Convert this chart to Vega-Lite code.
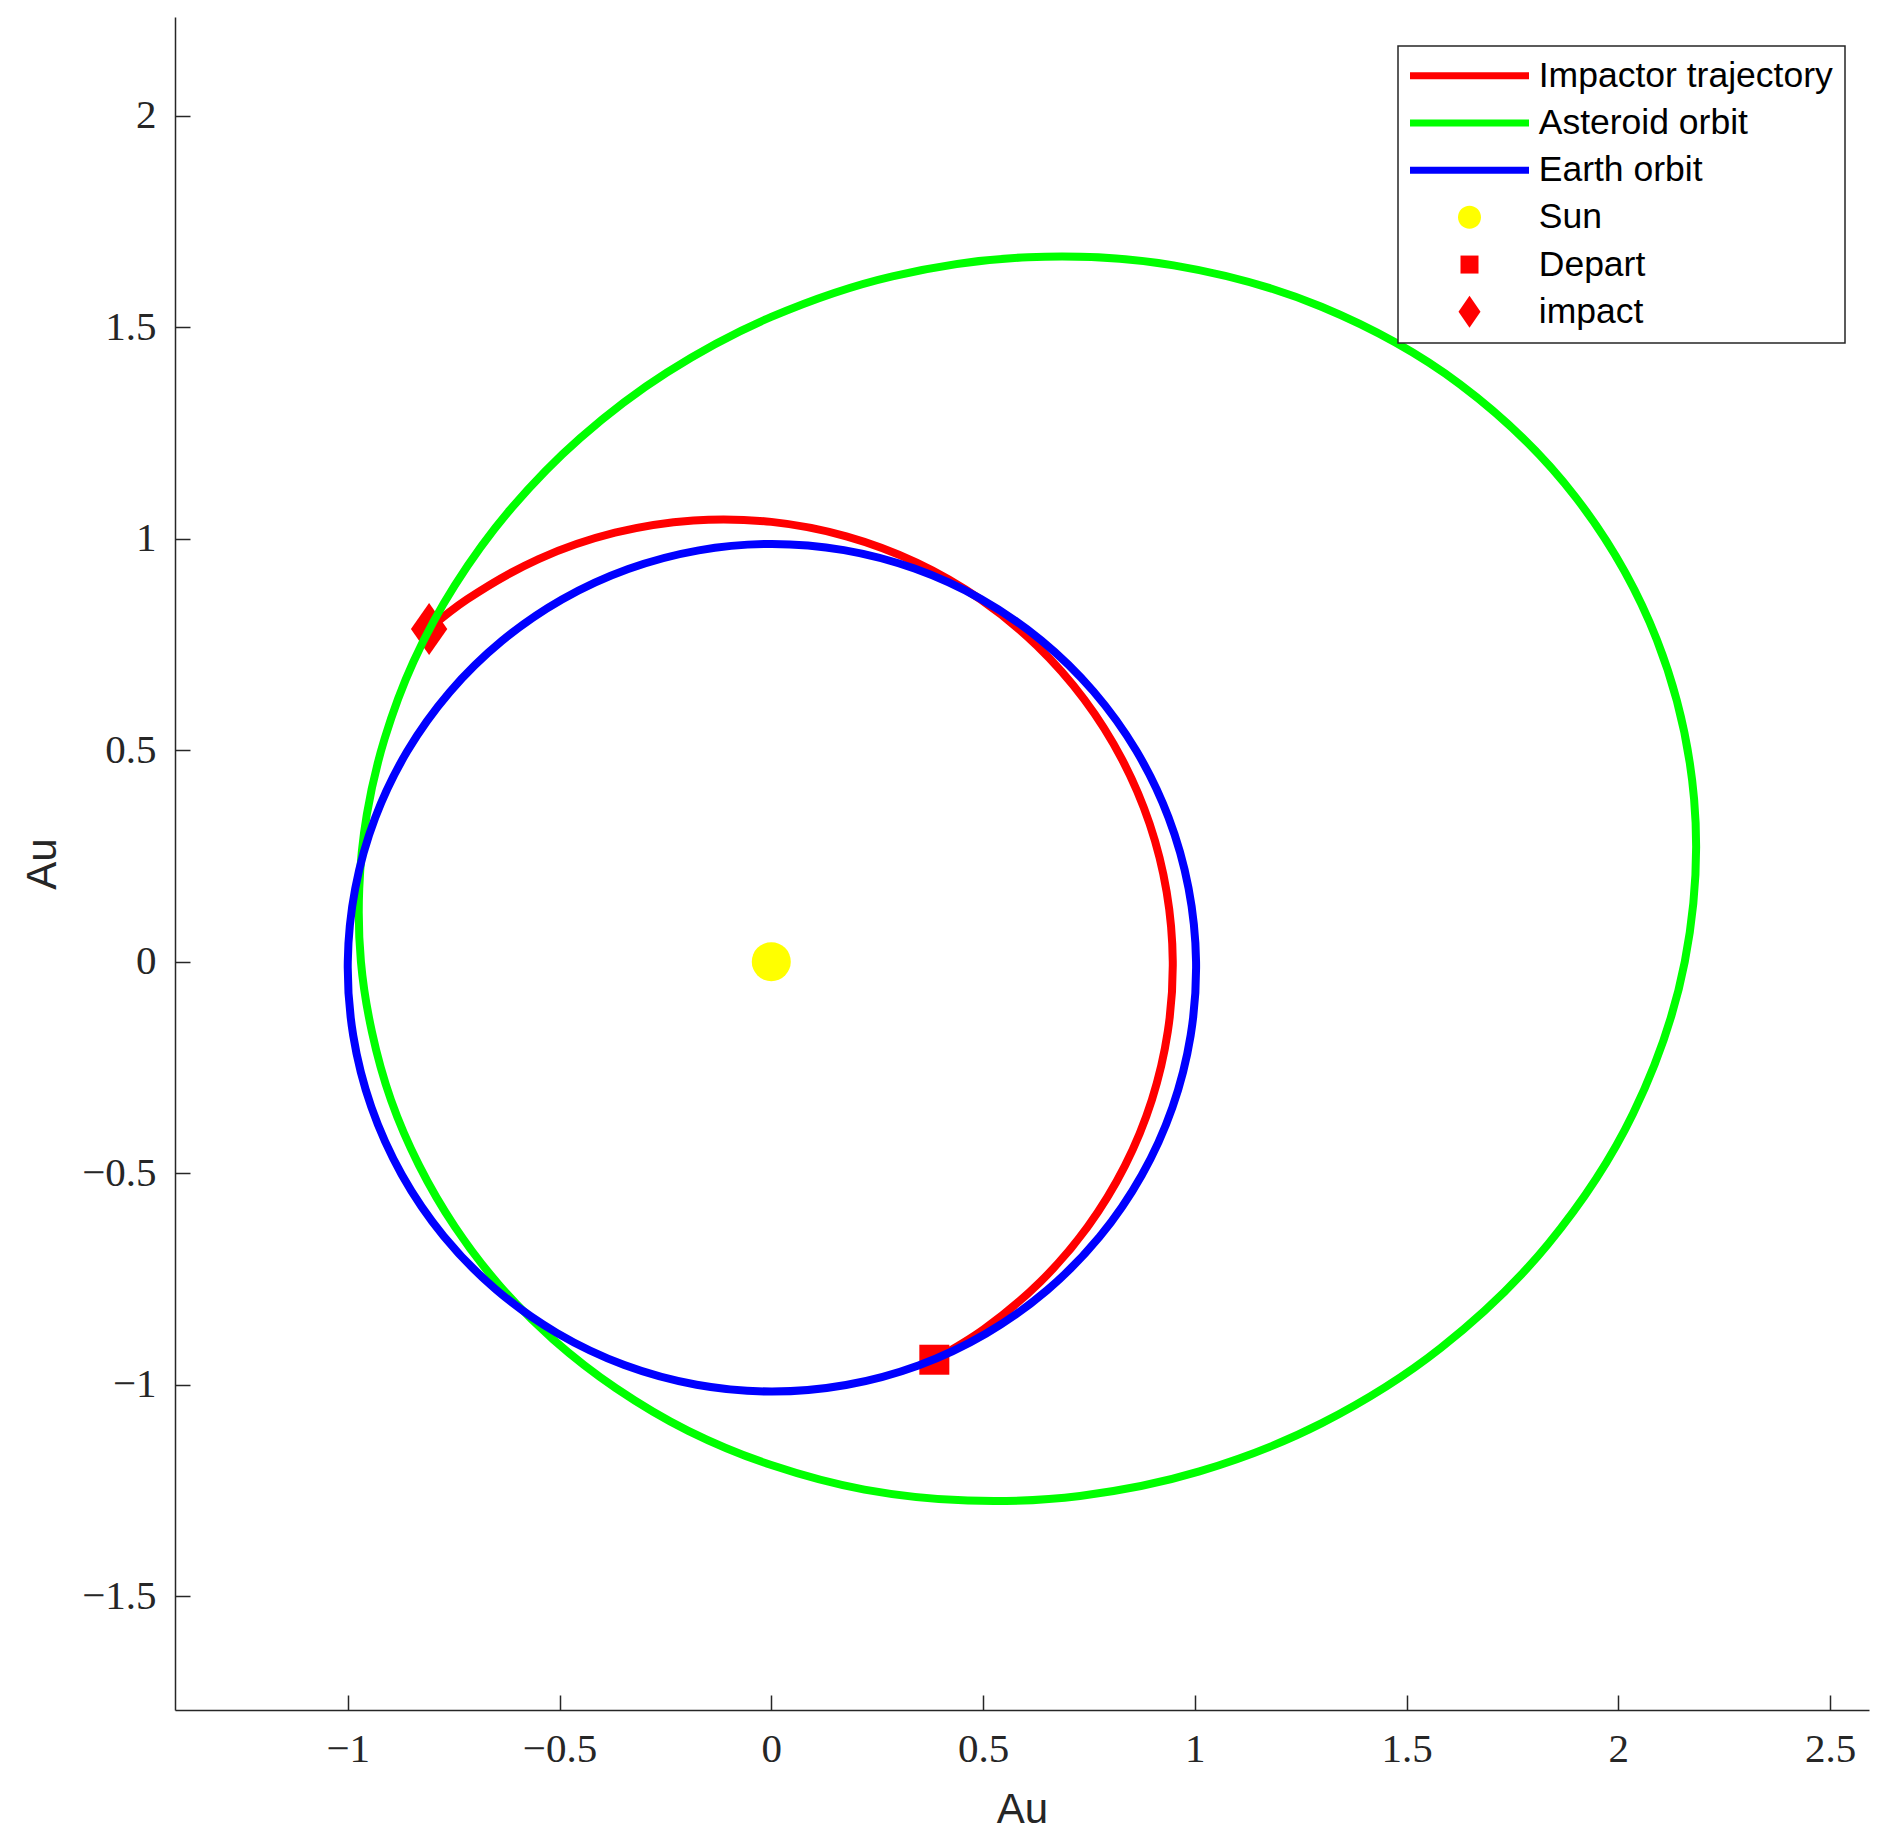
{
  "$schema": "https://vega.github.io/schema/vega-lite/v6.json",
  "width": 1694,
  "height": 1693,
  "autosize": {"type": "none"},
  "padding": {"left": 175, "top": 17, "right": 27, "bottom": 131},
  "background": "white",
  "config": {
    "view": {"stroke": null},
    "axis": {
      "grid": false,
      "domainColor": "#262626",
      "domainWidth": 1.5,
      "tickColor": "#262626",
      "tickWidth": 1.5,
      "tickSize": -15,
      "labelPadding": 34,
      "labelFont": "Liberation Serif",
      "labelFontSize": 41,
      "labelColor": "#262626",
      "titleFont": "Liberation Sans",
      "titleFontSize": 42,
      "titleFontWeight": "normal",
      "titleColor": "#262626",
      "format": ".1~f"
    }
  },
  "datasets": {
    "impactor": [
      {"series": "Impactor trajectory", "a": -67.7, "x": 0.3858, "y": -0.9404},
      {"series": "Impactor trajectory", "a": -60, "x": 0.5017, "y": -0.8690},
      {"series": "Impactor trajectory", "a": -50, "x": 0.6352, "y": -0.7570},
      {"series": "Impactor trajectory", "a": -40, "x": 0.7469, "y": -0.6268},
      {"series": "Impactor trajectory", "a": -30, "x": 0.8352, "y": -0.4822},
      {"series": "Impactor trajectory", "a": -20, "x": 0.8986, "y": -0.3270},
      {"series": "Impactor trajectory", "a": -10, "x": 0.9363, "y": -0.1650},
      {"series": "Impactor trajectory", "a": 0, "x": 0.9480, "y": 0},
      {"series": "Impactor trajectory", "a": 10, "x": 0.9336, "y": 0.1646},
      {"series": "Impactor trajectory", "a": 20, "x": 0.8935, "y": 0.3252},
      {"series": "Impactor trajectory", "a": 30, "x": 0.8282, "y": 0.4782},
      {"series": "Impactor trajectory", "a": 40, "x": 0.7389, "y": 0.6200},
      {"series": "Impactor trajectory", "a": 50, "x": 0.6270, "y": 0.7471},
      {"series": "Impactor trajectory", "a": 60, "x": 0.4943, "y": 0.8561},
      {"series": "Impactor trajectory", "a": 70, "x": 0.3433, "y": 0.9433},
      {"series": "Impactor trajectory", "a": 80, "x": 0.1772, "y": 1.0054},
      {"series": "Impactor trajectory", "a": 90, "x": 0, "y": 1.0395},
      {"series": "Impactor trajectory", "a": 100, "x": -0.1839, "y": 1.0430},
      {"series": "Impactor trajectory", "a": 110, "x": -0.3691, "y": 1.0140},
      {"series": "Impactor trajectory", "a": 120, "x": -0.5495, "y": 0.9517},
      {"series": "Impactor trajectory", "a": 130, "x": -0.7185, "y": 0.8562},
      {"series": "Impactor trajectory", "a": 135.8, "x": -0.8088, "y": 0.7864}
    ],
    "asteroid": [
      {"series": "Asteroid orbit", "a": 0, "x": 2.157, "y": 0},
      {"series": "Asteroid orbit", "a": 10, "x": 2.179, "y": 0.384},
      {"series": "Asteroid orbit", "a": 20, "x": 2.091, "y": 0.761},
      {"series": "Asteroid orbit", "a": 30, "x": 1.900, "y": 1.097},
      {"series": "Asteroid orbit", "a": 40, "x": 1.626, "y": 1.365},
      {"series": "Asteroid orbit", "a": 50, "x": 1.299, "y": 1.548},
      {"series": "Asteroid orbit", "a": 60, "x": 0.950, "y": 1.646},
      {"series": "Asteroid orbit", "a": 70, "x": 0.606, "y": 1.665},
      {"series": "Asteroid orbit", "a": 80, "x": 0.286, "y": 1.620},
      {"series": "Asteroid orbit", "a": 90, "x": 0, "y": 1.524},
      {"series": "Asteroid orbit", "a": 100, "x": -0.246, "y": 1.393},
      {"series": "Asteroid orbit", "a": 110, "x": -0.451, "y": 1.238},
      {"series": "Asteroid orbit", "a": 120, "x": -0.617, "y": 1.068},
      {"series": "Asteroid orbit", "a": 130, "x": -0.747, "y": 0.890},
      {"series": "Asteroid orbit", "a": 140, "x": -0.845, "y": 0.709},
      {"series": "Asteroid orbit", "a": 150, "x": -0.913, "y": 0.527},
      {"series": "Asteroid orbit", "a": 160, "x": -0.955, "y": 0.348},
      {"series": "Asteroid orbit", "a": 170, "x": -0.973, "y": 0.172},
      {"series": "Asteroid orbit", "a": 180, "x": -0.969, "y": 0},
      {"series": "Asteroid orbit", "a": 190, "x": -0.943, "y": -0.166},
      {"series": "Asteroid orbit", "a": 200, "x": -0.898, "y": -0.327},
      {"series": "Asteroid orbit", "a": 210, "x": -0.832, "y": -0.481},
      {"series": "Asteroid orbit", "a": 220, "x": -0.747, "y": -0.627},
      {"series": "Asteroid orbit", "a": 230, "x": -0.642, "y": -0.765},
      {"series": "Asteroid orbit", "a": 240, "x": -0.515, "y": -0.893},
      {"series": "Asteroid orbit", "a": 250, "x": -0.367, "y": -1.008},
      {"series": "Asteroid orbit", "a": 260, "x": -0.196, "y": -1.109},
      {"series": "Asteroid orbit", "a": 270, "x": 0, "y": -1.190},
      {"series": "Asteroid orbit", "a": 280, "x": 0.220, "y": -1.248},
      {"series": "Asteroid orbit", "a": 290, "x": 0.464, "y": -1.274},
      {"series": "Asteroid orbit", "a": 300, "x": 0.729, "y": -1.263},
      {"series": "Asteroid orbit", "a": 310, "x": 1.011, "y": -1.205},
      {"series": "Asteroid orbit", "a": 320, "x": 1.300, "y": -1.091},
      {"series": "Asteroid orbit", "a": 330, "x": 1.581, "y": -0.913},
      {"series": "Asteroid orbit", "a": 340, "x": 1.834, "y": -0.668},
      {"series": "Asteroid orbit", "a": 350, "x": 2.035, "y": -0.359}
    ],
    "earth": [
      {"series": "Earth orbit", "a": 0, "x": 1.0030, "y": 0},
      {"series": "Earth orbit", "a": 10, "x": 0.9853, "y": 0.1737},
      {"series": "Earth orbit", "a": 20, "x": 0.9378, "y": 0.3413},
      {"series": "Earth orbit", "a": 30, "x": 0.8623, "y": 0.4978},
      {"series": "Earth orbit", "a": 40, "x": 0.7610, "y": 0.6386},
      {"series": "Earth orbit", "a": 50, "x": 0.6374, "y": 0.7596},
      {"series": "Earth orbit", "a": 60, "x": 0.4950, "y": 0.8573},
      {"series": "Earth orbit", "a": 70, "x": 0.3381, "y": 0.9291},
      {"series": "Earth orbit", "a": 80, "x": 0.1715, "y": 0.9728},
      {"series": "Earth orbit", "a": 90, "x": 0, "y": 0.9874},
      {"series": "Earth orbit", "a": 100, "x": -0.1714, "y": 0.9723},
      {"series": "Earth orbit", "a": 110, "x": -0.3378, "y": 0.9281},
      {"series": "Earth orbit", "a": 120, "x": -0.4943, "y": 0.8561},
      {"series": "Earth orbit", "a": 130, "x": -0.6362, "y": 0.7581},
      {"series": "Earth orbit", "a": 140, "x": -0.7593, "y": 0.6372},
      {"series": "Earth orbit", "a": 150, "x": -0.8600, "y": 0.4966},
      {"series": "Earth orbit", "a": 160, "x": -0.9352, "y": 0.3404},
      {"series": "Earth orbit", "a": 170, "x": -0.9824, "y": 0.1732},
      {"series": "Earth orbit", "a": 180, "x": -1.0000, "y": 0},
      {"series": "Earth orbit", "a": 190, "x": -0.9873, "y": -0.1740},
      {"series": "Earth orbit", "a": 200, "x": -0.9444, "y": -0.3437},
      {"series": "Earth orbit", "a": 210, "x": -0.8724, "y": -0.5037},
      {"series": "Earth orbit", "a": 220, "x": -0.7734, "y": -0.6490},
      {"series": "Earth orbit", "a": 230, "x": -0.6503, "y": -0.7749},
      {"series": "Earth orbit", "a": 240, "x": -0.5067, "y": -0.8775},
      {"series": "Earth orbit", "a": 250, "x": -0.3470, "y": -0.9535},
      {"series": "Earth orbit", "a": 260, "x": -0.1763, "y": -1.0001},
      {"series": "Earth orbit", "a": 270, "x": 0, "y": -1.0161},
      {"series": "Earth orbit", "a": 280, "x": 0.1764, "y": -1.0007},
      {"series": "Earth orbit", "a": 290, "x": 0.3474, "y": -0.9545},
      {"series": "Earth orbit", "a": 300, "x": 0.5074, "y": -0.8789},
      {"series": "Earth orbit", "a": 310, "x": 0.6515, "y": -0.7764},
      {"series": "Earth orbit", "a": 320, "x": 0.7752, "y": -0.6505},
      {"series": "Earth orbit", "a": 330, "x": 0.8747, "y": -0.5050},
      {"series": "Earth orbit", "a": 340, "x": 0.9471, "y": -0.3447},
      {"series": "Earth orbit", "a": 350, "x": 0.9902, "y": -0.1746}
    ],
    "sun": [{"series": "Sun", "x": 0, "y": 0}],
    "depart": [{"series": "Depart", "x": 0.3850, "y": -0.9410}],
    "impact": [{"series": "impact", "x": -0.8080, "y": 0.7865}]
  },
  "encoding": {
    "x": {
      "field": "x", "type": "quantitative",
      "scale": {"domain": [-1.408, 2.592], "nice": false, "zero": false},
      "axis": {"title": "Au", "values": [-1, -0.5, 0, 0.5, 1, 1.5, 2, 2.5], "titlePadding": 20}
    },
    "y": {
      "field": "y", "type": "quantitative",
      "scale": {"domain": [-1.769, 2.233], "nice": false, "zero": false},
      "axis": {"title": "Au", "values": [-1.5, -1, -0.5, 0, 0.5, 1, 1.5, 2], "titlePadding": 17}
    },
    "color": {
      "field": "series", "type": "nominal",
      "scale": {
        "domain": ["Impactor trajectory", "Asteroid orbit", "Earth orbit", "Sun", "Depart", "impact"],
        "range": ["#FF0000", "#00FF00", "#0000FF", "#FFFF00", "#FF0000", "#FF0000"]
      },
      "legend": {
        "title": null,
        "orient": "none",
        "legendX": 1223,
        "legendY": 29,
        "direction": "vertical",
        "padding": 12,
        "rowPadding": 10.2,
        "strokeColor": "#262626",
        "fillColor": "white",
        "cornerRadius": 0,
        "labelFont": "Liberation Sans",
        "labelFontSize": 35.5,
        "labelColor": "black",
        "labelLimit": 1000,
        "symbolSize": 4,
        "symbolStrokeWidth": 7,
        "symbolOffset": 41.75,
        "labelOffset": 51.5,
        "symbolOpacity": 1,
        "encode": {
          "legend": {"update": {"strokeWidth": {"value": 1.5}}},
          "symbols": {
            "update": {
              "shape": {"signal": "datum.value === 'Sun' ? 'M-11.5,0A11.5,11.5,0,1,1,11.5,0A11.5,11.5,0,1,1,-11.5,0Z' : datum.value === 'Depart' ? 'M-9,-9L9,-9L9,9L-9,9Z' : datum.value === 'impact' ? 'M0,-16L11,0L0,16L-11,0Z' : 'M-59.5,0L59.5,0'"},
              "fill": {"signal": "scale('color', datum.value)"},
              "stroke": {"signal": "indexof(['Sun','Depart','impact'], datum.value) >= 0 ? 'transparent' : scale('color', datum.value)"},
              "strokeWidth": {"signal": "indexof(['Sun','Depart','impact'], datum.value) >= 0 ? 0 : 7"},
              "size": {"value": 4},
              "fillOpacity": {"value": 1},
              "strokeOpacity": {"value": 1},
              "opacity": {"value": 1}
            }
          }
        }
      }
    }
  },
  "layer": [
    {
      "data": {"name": "impactor"},
      "mark": {"type": "line", "interpolate": "catmull-rom", "strokeWidth": 8, "strokeJoin": "round"},
      "encoding": {"order": {"field": "a", "type": "quantitative"}}
    },
    {
      "data": {"name": "sun"},
      "mark": {"type": "point", "filled": true, "shape": "circle", "size": 1521, "opacity": 1, "strokeWidth": 0}
    },
    {
      "data": {"name": "depart"},
      "mark": {"type": "point", "filled": true, "shape": "square", "size": 900, "opacity": 1, "strokeWidth": 0}
    },
    {
      "data": {"name": "impact"},
      "mark": {"type": "point", "filled": true, "shape": "M0,-1L0.7,0L0,1L-0.7,0Z", "size": 2704, "opacity": 1, "strokeWidth": 0}
    },
    {
      "data": {"name": "asteroid"},
      "mark": {"type": "line", "interpolate": "cardinal-closed", "strokeWidth": 8, "strokeJoin": "round"},
      "encoding": {"order": {"field": "a", "type": "quantitative"}}
    },
    {
      "data": {"name": "earth"},
      "mark": {"type": "line", "interpolate": "cardinal-closed", "strokeWidth": 8, "strokeJoin": "round"},
      "encoding": {"order": {"field": "a", "type": "quantitative"}}
    }
  ]
}
